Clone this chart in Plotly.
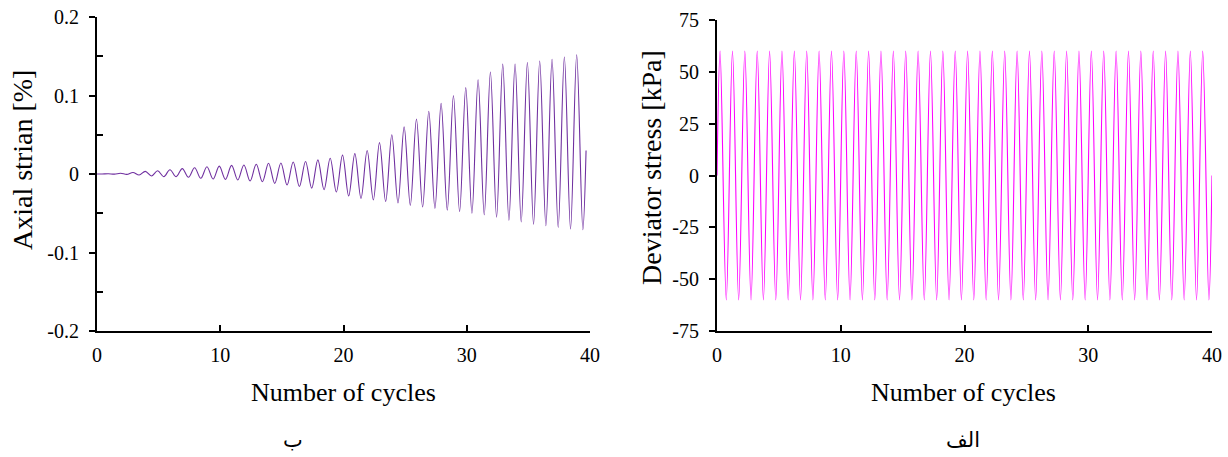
import plotly.graph_objects as go

# ---- data ----
n_cycles = 40
cycles = list(range(n_cycles))
# axial strain [%]: trough value (around cycle + 0.4) and peak value (around cycle + 0.92)
strain_trough = [0.0, -0.0002, -0.0005, -0.0013, -0.0025, -0.0034, -0.0034, -0.0042, -0.0055, -0.0064,
                 -0.0068, -0.0076, -0.0089, -0.0098, -0.012, -0.014, -0.016, -0.018, -0.020, -0.023,
                 -0.028, -0.031, -0.033, -0.035, -0.037, -0.040, -0.042, -0.044, -0.046, -0.048,
                 -0.050, -0.052, -0.055, -0.059, -0.061, -0.064, -0.066, -0.068, -0.070, -0.071]
strain_peak = [0.0003, 0.001, 0.002, 0.0034, 0.0042, 0.0055, 0.0068, 0.008, 0.0093, 0.010,
               0.011, 0.0115, 0.0125, 0.0136, 0.014, 0.0153, 0.016, 0.018, 0.020, 0.024,
               0.026, 0.030, 0.040, 0.050, 0.060, 0.070, 0.080, 0.090, 0.100, 0.110,
               0.120, 0.130, 0.140, 0.140, 0.142, 0.144, 0.146, 0.149, 0.152, 0.152]
strain_start = 0.0
strain_end_x, strain_end = 39.68, 0.03
trough_phase, peak_phase = 0.42, 0.92

# deviator stress [kPa]
stress_max, stress_min = 60, -60
stress_peak_phase, stress_trough_phase = 0.25, 0.75

# ticks
y1_vals = [0.2, 0.1, 0, -0.1, -0.2]
y1_text = ["0.2", "0.1", "0", "-0.1", "-0.2"]
y2_vals = [75, 50, 25, 0, -25, -50, -75]
y2_text = ["75", "50", "25", "0", "-25", "-50", "-75"]
x_vals = [0, 10, 20, 30, 40]

# ---- build traces from the extrema ----
sx, sy = [0.0], [strain_start]
for c in cycles:
    if c + peak_phase < strain_end_x:
        sx += [c + trough_phase, c + peak_phase]
        sy += [strain_trough[c], strain_peak[c]]
    else:
        sx.append(c + trough_phase)
        sy.append(strain_trough[c])
sx.append(strain_end_x)
sy.append(strain_end)

dx, dy = [0.0], [0.0]
for c in cycles:
    dx += [c + stress_peak_phase, c + stress_trough_phase]
    dy += [stress_max, stress_min]
dx.append(float(n_cycles))
dy.append(0.0)

W, H = 1228, 457
fig = go.Figure()
fig.add_trace(go.Scatter(x=sx, y=sy, mode="lines", line=dict(color="#7030A0", width=1.1, shape="spline", smoothing=1),
                         xaxis="x", yaxis="y", showlegend=False, hoverinfo="skip"))
fig.add_trace(go.Scatter(x=dx, y=dy, mode="lines", line=dict(color="#FF00FF", width=1.1, shape="spline", smoothing=1),
                         xaxis="x2", yaxis="y2", showlegend=False, hoverinfo="skip"))

FONT = "Liberation Serif, Times New Roman, serif"
tickfont = dict(family=FONT, size=20, color="black")

def px(x):
    return x / W

def py(y):
    return 1 - y / H

common_x = dict(range=[0, 40], tickvals=x_vals, ticks="inside", ticklen=6, tickwidth=2, tickcolor="black",
                showline=True, linecolor="black", linewidth=2, showgrid=False, zeroline=False,
                tickfont=tickfont, ticklabelstandoff=5, automargin=False)

fig.update_layout(
    width=W, height=H,
    margin=dict(l=0, r=0, t=0, b=0, autoexpand=False),
    paper_bgcolor="white", plot_bgcolor="white",
    xaxis=dict(domain=[px(97), px(590)], anchor="y", **common_x),
    yaxis=dict(domain=[py(331), py(17)], anchor="x", range=[-0.2, 0.2], tickvals=y1_vals, ticktext=y1_text,
               ticks="outside", ticklen=6, tickwidth=2, tickcolor="black",
               minor=dict(tickvals=[-0.15, -0.05, 0.05, 0.15], ticks="inside", ticklen=6, tickwidth=2, tickcolor="black"),
               showline=True, linecolor="black", linewidth=2, showgrid=False, zeroline=False,
               tickfont=tickfont, ticklabelstandoff=6, automargin=False),
    xaxis2=dict(domain=[px(717), px(1212)], anchor="y2", **common_x),
    yaxis2=dict(domain=[py(331), py(20)], anchor="x2", range=[-75, 75], tickvals=y2_vals, ticktext=y2_text,
                ticks="outside", ticklen=6, tickwidth=2, tickcolor="black",
                showline=True, linecolor="black", linewidth=2, showgrid=False, zeroline=False,
                tickfont=tickfont, ticklabelstandoff=6, automargin=False),
)

xtitle_font = dict(family=FONT, size=26, color="black")
ytitle_font = dict(family=FONT, size=28, color="black")
ar_font = dict(family="DejaVu Sans, Noto Sans, sans-serif", size=21, color="black")
annotations = [
    dict(text="Number of cycles", x=px(343), y=py(392), font=xtitle_font),
    dict(text="Number of cycles", x=px(963), y=py(392), font=xtitle_font),
    dict(text="Axial strian [%]", x=px(22), y=py(160), textangle=-90, font=ytitle_font),
    dict(text="Deviator stress [kPa]", x=px(651), y=py(168), textangle=-90, font=ytitle_font),
    dict(text="ب", x=px(293), y=py(440), font=ar_font),
    dict(text="الف", x=px(963), y=py(440), font=ar_font),
]
for a in annotations:
    fig.add_annotation(xref="paper", yref="paper", showarrow=False, xanchor="center", yanchor="middle", **a)

fig.write_html("out.html", config={"displayModeBar": False, "staticPlot": True},
               post_script="document.body.style.margin='0';document.body.style.overflow='hidden';")
